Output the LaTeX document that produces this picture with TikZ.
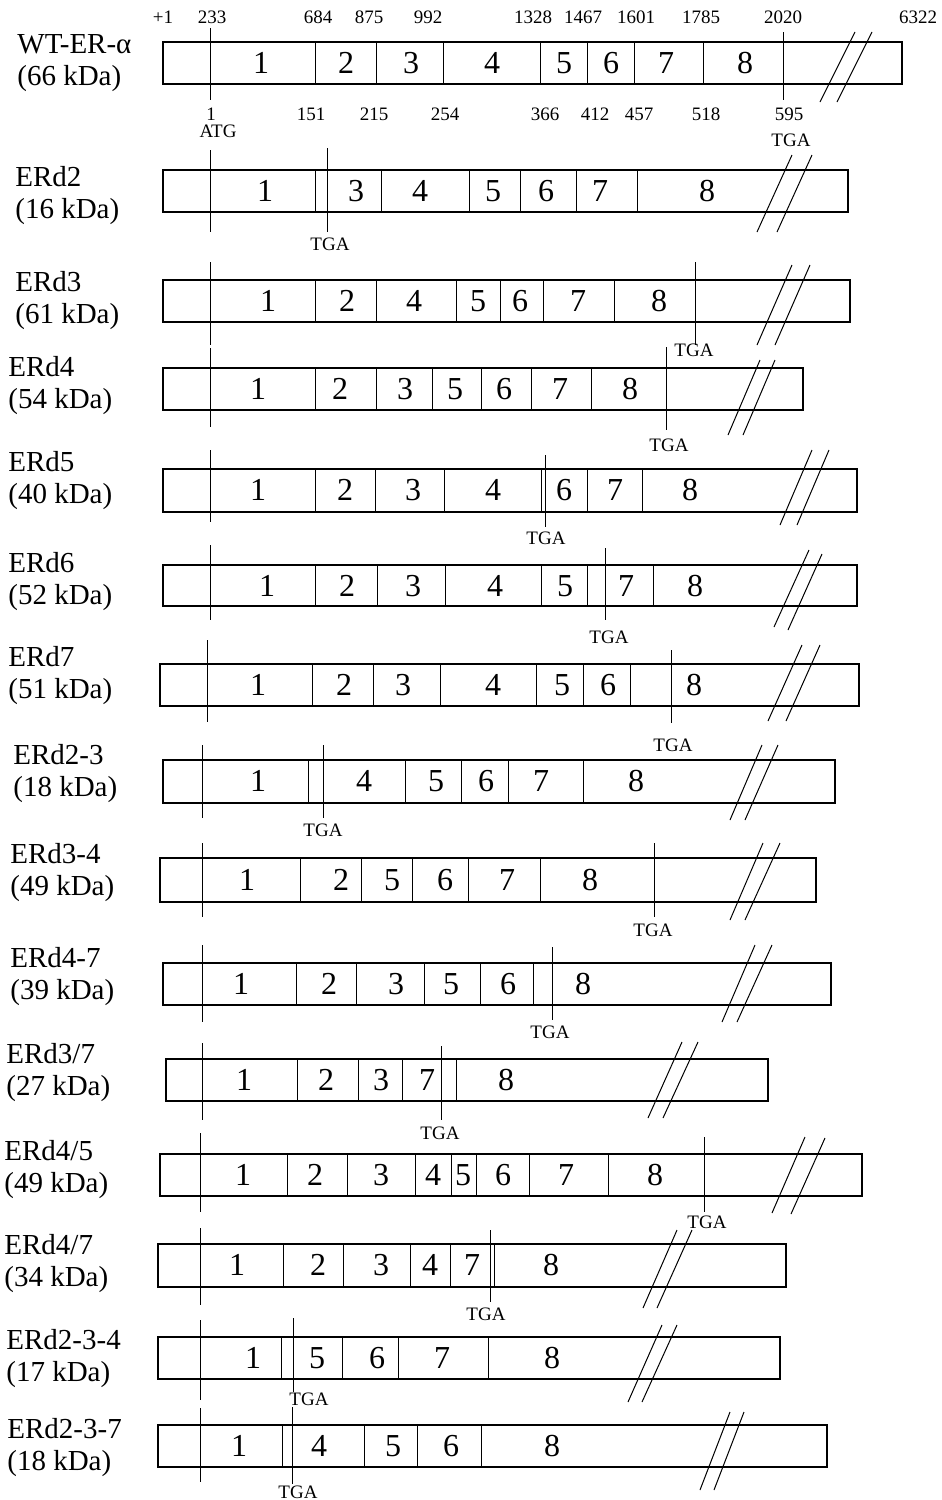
\documentclass[tikz,border=0pt]{standalone}
\usepackage{fontspec}
\setmainfont{Liberation Serif}
\usepackage{tikz}

\begin{document}
\begin{tikzpicture}[
x=0.5pt,y=-0.5pt,
gene/.style={draw=black,line width=0.8pt},
cut/.style={draw=black,line width=0.5pt},
site/.style={draw=black,line width=0.45pt},
brk/.style={draw=black,line width=0.5pt},
lab/.style={anchor=west,align=left,inner sep=0pt,font=\fontsize{14.5}{16}\selectfont},
exnum/.style={inner sep=0pt,font=\fontsize{16}{16}\selectfont},
posnum/.style={inner sep=0pt,font=\fontsize{9.5}{10}\selectfont}
]
\useasboundingbox (0,0) rectangle (942,1500);

% WT-ER-alpha
\node[lab] (wt) at (17,63) {WT-ER-α\\(66 kDa)};
\draw[gene] (163,42) rectangle (902,84);
\foreach \x in {315,376,443,540,587,634,703} \draw[cut] (\x,42) -- (\x,84);
\foreach \n/\x in {1/261,2/346,3/411,4/492,5/564,6/611,7/666,8/745} \node[exnum] (wt-\n) at (\x,63) {\n};
\draw[site] (210,28) -- (210,100);
\draw[site] (783,32) -- (783,100);
\foreach \t/\x [count=\i] in {+1/163,233/212,684/318,875/369,992/428,1328/533,1467/583,1601/636,1785/701,2020/783,6322/918} \node[posnum] (top\i) at (\x,17) {\t};
\foreach \t/\x [count=\i] in {1/211,151/311,215/374,254/445,366/545,412/595,457/639,518/706,595/789} \node[posnum] (bot\i) at (\x,114) {\t};
\node[posnum] (wt-atg) at (218,131) {ATG};
\node[posnum] (wt-tga) at (791,140) {TGA};
\draw[brk] (820,102) -- (855,32) (837,102) -- (872,32);

% ERd2
\node[lab] (d2) at (15,196) {ERd2\\(16 kDa)};
\draw[gene] (163,170) rectangle (848,212);
\foreach \x in {315,381,469,520,576,637} \draw[cut] (\x,170) -- (\x,212);
\foreach \n/\x in {1/265,3/356,4/420,5/493,6/546,7/600,8/707} \node[exnum] (d2-\n) at (\x,191) {\n};
\draw[site] (210,150) -- (210,232);
\draw[site] (327,148) -- (327,232);
\node[posnum] (d2-tga) at (330,244) {TGA};
\draw[brk] (757,232) -- (792,155) (777,232) -- (812,155);

% ERd3
\node[lab] (d3) at (15,301) {ERd3\\(61 kDa)};
\draw[gene] (163,280) rectangle (850,322);
\foreach \x in {315,376,456,500,543,614} \draw[cut] (\x,280) -- (\x,322);
\foreach \n/\x in {1/268,2/347,4/414,5/478,6/520,7/578,8/659} \node[exnum] (d3-\n) at (\x,301) {\n};
\draw[site] (210,262) -- (210,345);
\draw[site] (695,262) -- (695,345);
\node[posnum] (d3-tga) at (694,350) {TGA};
\draw[brk] (757,345) -- (792,265) (775,345) -- (810,265);

% ERd4
\node[lab] (d4) at (8,386) {ERd4\\(54 kDa)};
\draw[gene] (163,368) rectangle (803,410);
\foreach \x in {315,376,432,481,531,591} \draw[cut] (\x,368) -- (\x,410);
\foreach \n/\x in {1/258,2/340,3/405,5/455,6/504,7/560,8/630} \node[exnum] (d4-\n) at (\x,389) {\n};
\draw[site] (210,348) -- (210,427);
\draw[site] (666,347) -- (666,430);
\node[posnum] (d4-tga) at (669,445) {TGA};
\draw[brk] (728,435) -- (760,360) (743,435) -- (775,360);

% ERd5
\node[lab] (d5) at (8,481) {ERd5\\(40 kDa)};
\draw[gene] (163,469) rectangle (857,512);
\foreach \x in {315,375,444,541,587,642} \draw[cut] (\x,469) -- (\x,512);
\foreach \n/\x in {1/258,2/345,3/413,4/493,6/564,7/615,8/690} \node[exnum] (d5-\n) at (\x,490) {\n};
\draw[site] (210,450) -- (210,522);
\draw[site] (545,455) -- (545,527);
\node[posnum] (d5-tga) at (546,538) {TGA};
\draw[brk] (780,525) -- (812,450) (797,525) -- (829,450);

% ERd6
\node[lab] (d6) at (8,582) {ERd6\\(52 kDa)};
\draw[gene] (163,565) rectangle (857,606);
\foreach \x in {315,377,445,541,587,653} \draw[cut] (\x,565) -- (\x,606);
\foreach \n/\x in {1/267,2/347,3/413,4/495,5/565,7/626,8/695} \node[exnum] (d6-\n) at (\x,586) {\n};
\draw[site] (210,545) -- (210,620);
\draw[site] (605,548) -- (605,620);
\node[posnum] (d6-tga) at (609,637) {TGA};
\draw[brk] (774,627) -- (809,550) (788,630) -- (822,554);

% ERd7
\node[lab] (d7) at (8,676) {ERd7\\(51 kDa)};
\draw[gene] (160,664) rectangle (859,706);
\foreach \x in {312,373,440,536,583,630} \draw[cut] (\x,664) -- (\x,706);
\foreach \n/\x in {1/258,2/344,3/403,4/493,5/562,6/608,8/694} \node[exnum] (d7-\n) at (\x,685) {\n};
\draw[site] (207,640) -- (207,722);
\draw[site] (671,650) -- (671,723);
\node[posnum] (d7-tga) at (673,745) {TGA};
\draw[brk] (768,721) -- (802,645) (786,721) -- (820,645);

% ERd2-3
\node[lab] (d23) at (13,774) {ERd2-3\\(18 kDa)};
\draw[gene] (163,760) rectangle (835,803);
\foreach \x in {308,405,461,508,583} \draw[cut] (\x,760) -- (\x,803);
\foreach \n/\x in {1/258,4/364,5/436,6/486,7/541,8/636} \node[exnum] (d23-\n) at (\x,781) {\n};
\draw[site] (202,745) -- (202,818);
\draw[site] (323,745) -- (323,818);
\node[posnum] (d23-tga) at (323,830) {TGA};
\draw[brk] (730,820) -- (762,745) (745,820) -- (778,745);

% ERd3-4
\node[lab] (d34) at (10,873) {ERd3-4\\(49 kDa)};
\draw[gene] (160,858) rectangle (816,902);
\foreach \x in {300,361,412,468,540} \draw[cut] (\x,858) -- (\x,902);
\foreach \n/\x in {1/247,2/341,5/392,6/445,7/507,8/590} \node[exnum] (d34-\n) at (\x,880) {\n};
\draw[site] (202,843) -- (202,917);
\draw[site] (654,843) -- (654,917);
\node[posnum] (d34-tga) at (653,930) {TGA};
\draw[brk] (730,920) -- (763,843) (745,920) -- (780,843);

% ERd4-7
\node[lab] (d47) at (10,977) {ERd4-7\\(39 kDa)};
\draw[gene] (163,963) rectangle (831,1005);
\foreach \x in {296,356,424,480,533} \draw[cut] (\x,963) -- (\x,1005);
\foreach \n/\x in {1/241,2/329,3/396,5/451,6/508,8/583} \node[exnum] (d47-\n) at (\x,984) {\n};
\draw[site] (202,945) -- (202,1022);
\draw[site] (552,947) -- (552,1020);
\node[posnum] (d47-tga) at (550,1032) {TGA};
\draw[brk] (722,1022) -- (755,945) (737,1022) -- (772,945);

% ERd3/7
\node[lab] (d3s7) at (6,1073) {ERd3/7\\(27 kDa)};
\draw[gene] (166,1059) rectangle (768,1101);
\foreach \x in {297,358,402,456} \draw[cut] (\x,1059) -- (\x,1101);
\foreach \n/\x in {1/244,2/326,3/381,7/427,8/506} \node[exnum] (d3s7-\n) at (\x,1080) {\n};
\draw[site] (202,1043) -- (202,1120);
\draw[site] (441,1046) -- (441,1120);
\node[posnum] (d3s7-tga) at (440,1133) {TGA};
\draw[brk] (648,1118) -- (682,1042) (663,1118) -- (698,1042);

% ERd4/5
\node[lab] (d4s5) at (4,1170) {ERd4/5\\(49 kDa)};
\draw[gene] (160,1154) rectangle (862,1196);
\foreach \x in {287,347,415,451,476,529,608} \draw[cut] (\x,1154) -- (\x,1196);
\foreach \n/\x in {1/243,2/315,3/381,4/433,5/463,6/503,7/566,8/655} \node[exnum] (d4s5-\n) at (\x,1175) {\n};
\draw[site] (200,1133) -- (200,1212);
\draw[site] (704,1137) -- (704,1212);
\node[posnum] (d4s5-tga) at (707,1222) {TGA};
\draw[brk] (772,1213) -- (805,1137) (791,1214) -- (825,1138);

% ERd4/7
\node[lab] (d4s7) at (4,1264) {ERd4/7\\(34 kDa)};
\draw[gene] (158,1244) rectangle (786,1287);
\foreach \x in {283,343,410,450,494} \draw[cut] (\x,1244) -- (\x,1287);
\foreach \n/\x in {1/237,2/318,3/381,4/430,7/472,8/551} \node[exnum] (d4s7-\n) at (\x,1265) {\n};
\draw[site] (200,1228) -- (200,1305);
\draw[site] (490,1230) -- (490,1302);
\node[posnum] (d4s7-tga) at (486,1314) {TGA};
\draw[brk] (643,1308) -- (677,1230) (657,1308) -- (692,1230);

% ERd2-3-4
\node[lab] (d234) at (6,1359) {ERd2-3-4\\(17 kDa)};
\draw[gene] (158,1337) rectangle (780,1379);
\foreach \x in {281,342,398,488} \draw[cut] (\x,1337) -- (\x,1379);
\foreach \n/\x in {1/253,5/317,6/377,7/442,8/552} \node[exnum] (d234-\n) at (\x,1358) {\n};
\draw[site] (200,1320) -- (200,1400);
\draw[site] (293,1318) -- (293,1392);
\node[posnum] (d234-tga) at (309,1399) {TGA};
\draw[brk] (628,1402) -- (662,1325) (642,1402) -- (677,1325);

% ERd2-3-7
\node[lab] (d237) at (7,1448) {ERd2-3-7\\(18 kDa)};
\draw[gene] (158,1425) rectangle (827,1467);
\foreach \x in {282,364,417,481} \draw[cut] (\x,1425) -- (\x,1467);
\foreach \n/\x in {1/239,4/319,5/393,6/451,8/552} \node[exnum] (d237-\n) at (\x,1446) {\n};
\draw[site] (200,1408) -- (200,1482);
\draw[site] (292,1407) -- (292,1484);
\node[posnum] (d237-tga) at (298,1492) {TGA};
\draw[brk] (700,1490) -- (730,1412) (714,1490) -- (744,1412);
\end{tikzpicture}
\end{document}
